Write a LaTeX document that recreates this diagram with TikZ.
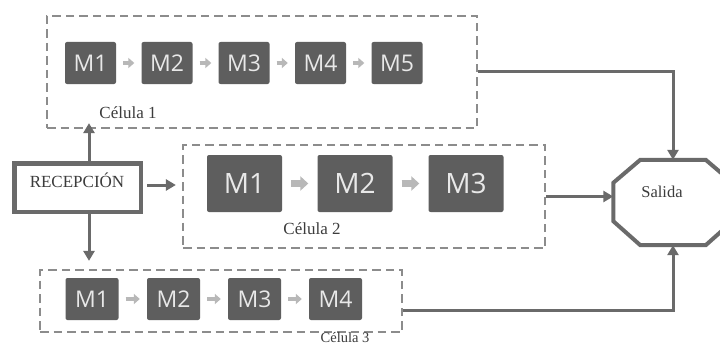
\documentclass[tikz,border=0pt]{standalone}
\usepackage{fontspec}
\setmainfont{Liberation Serif}
\newfontfamily\machfont{Open Sans}
\usetikzlibrary{arrows.meta}

\definecolor{machgray}{HTML}{5E5E5E}
\definecolor{machtext}{HTML}{E8E8E8}
\definecolor{flowgray}{HTML}{B8B8B8}
\definecolor{linegray}{HTML}{6A6A6A}
\definecolor{dashgray}{HTML}{8C8C8C}
\definecolor{labelgray}{HTML}{3C3C3C}

\tikzset{
  machine/.style={rectangle, fill=machgray, rounded corners=2pt, text=machtext,
    inner sep=0pt, font=\machfont\fontsize{23}{23}\selectfont},
  smallmach/.style={machine, minimum width=51pt, minimum height=42pt},
  lowmach/.style={machine, minimum width=53pt, minimum height=42pt},
  bigmach/.style={machine, minimum width=75pt, minimum height=57pt,
    font=\machfont\fontsize{28}{28}\selectfont},
  cellbox/.style={rectangle, draw=dashgray, line width=2.2pt,
    dash pattern=on 8.5pt off 5pt, inner sep=0pt},
  celllabel/.style={text=labelgray, font=\fontsize{17}{17}\selectfont, inner sep=0pt},
  flowarrow/.style={draw=flowgray, line width=4.5pt,
    -{Triangle[length=6pt,width=10pt]}, shorten <=7pt, shorten >=7pt},
  bigflow/.style={draw=flowgray, line width=7pt,
    -{Triangle[length=8pt,width=14pt]}, shorten <=9pt, shorten >=9pt},
  conn/.style={draw=linegray, line width=3pt,
    -{Triangle[length=10pt,width=11pt]}},
}

\begin{document}
\begin{tikzpicture}[x=1pt, y=-1pt]
\clip (0,0) rectangle (720,345);
\fill[white] (0,0) rectangle (720,345);

% --- cell outlines ---
\node[cellbox, minimum width=430pt, minimum height=112pt] (cell1) at (262,72) {};
\node[cellbox, minimum width=362pt, minimum height=103pt] (cell2) at (364,196.5) {};
\node[cellbox, minimum width=362pt, minimum height=62pt] (cell3) at (221,301) {};

% --- cell 1 machines ---
\node[smallmach] (a1) at (90.5,63) {M1};
\node[smallmach] (a2) at (167,63) {M2};
\node[smallmach] (a3) at (244,63) {M3};
\node[smallmach] (a4) at (320.5,63) {M4};
\node[smallmach] (a5) at (397,63) {M5};
\draw[flowarrow] (a1) -- (a2);
\draw[flowarrow] (a2) -- (a3);
\draw[flowarrow] (a3) -- (a4);
\draw[flowarrow] (a4) -- (a5);
\node[celllabel] (lab1) at (128,113) {Célula 1};

% --- cell 2 machines ---
\node[bigmach] (b1) at (244.5,183.5) {M1};
\node[bigmach] (b2) at (355,183.5) {M2};
\node[bigmach] (b3) at (466,183.5) {M3};
\draw[bigflow] (b1) -- (b2);
\draw[bigflow] (b2) -- (b3);
\node[celllabel] (lab2) at (312,229) {Célula 2};

% --- cell 3 machines ---
\node[lowmach] (c1) at (92,299) {M1};
\node[lowmach] (c2) at (173.5,299) {M2};
\node[lowmach] (c3) at (254.5,299) {M3};
\node[lowmach] (c4) at (335.5,299) {M4};
\draw[flowarrow] (c1) -- (c2);
\draw[flowarrow] (c2) -- (c3);
\draw[flowarrow] (c3) -- (c4);
\node[celllabel, anchor=base, font=\fontsize{14.5}{14.5}\selectfont] (lab3) at (345,342.5) {Célula 3};

% --- reception ---
\node[rectangle, draw=linegray, line width=4.5pt, inner sep=0pt,
      minimum width=126.5pt, minimum height=48.5pt] (rec) at (77.5,187.5) {};
\node[text=labelgray, inner sep=0pt, font=\fontsize{17}{17}\selectfont]
      (rectxt) at (77,180) {RECEPCIÓN};

\draw[conn] ([xshift=11.5pt]rec.north) -- ([xshift=11.5pt,yshift=6pt]rec.north |- cell1.south);
\draw[conn, shorten <=4pt, shorten >=6pt] ([yshift=2.5pt]rec.east) -- ([yshift=2.5pt]rec.east -| cell2.west);
\draw[conn, shorten >=8pt] ([xshift=11.5pt]rec.south) -- ([xshift=11.5pt]rec.south |- cell3.north);

% --- exit ---
\node[rectangle, inner sep=0pt, minimum width=119pt, minimum height=85pt] (salida) at (673,202.5) {};
\draw[draw=linegray, line width=4pt, line join=miter]
  ([xshift=27pt]salida.north west) -- ([xshift=-27pt]salida.north east)
  -- ([yshift=-23pt]salida.north east) -- ([yshift=24pt]salida.south east)
  -- ([xshift=-27pt]salida.south east) -- ([xshift=27pt]salida.south west)
  -- ([yshift=24pt]salida.south west) -- ([yshift=-23pt]salida.north west) -- cycle;
\node[text=labelgray, inner sep=0pt, font=\fontsize{16.5}{16.5}\selectfont]
      (salidatxt) at (662,192) {Salida};

\draw[conn] (cell1.east) -| (salida.north);
\draw[conn] (cell2.east) -- (cell2.east -| salida.west);
\draw[conn] ([yshift=-9pt]cell3.east) -| (salida.south);
\end{tikzpicture}
\end{document}
